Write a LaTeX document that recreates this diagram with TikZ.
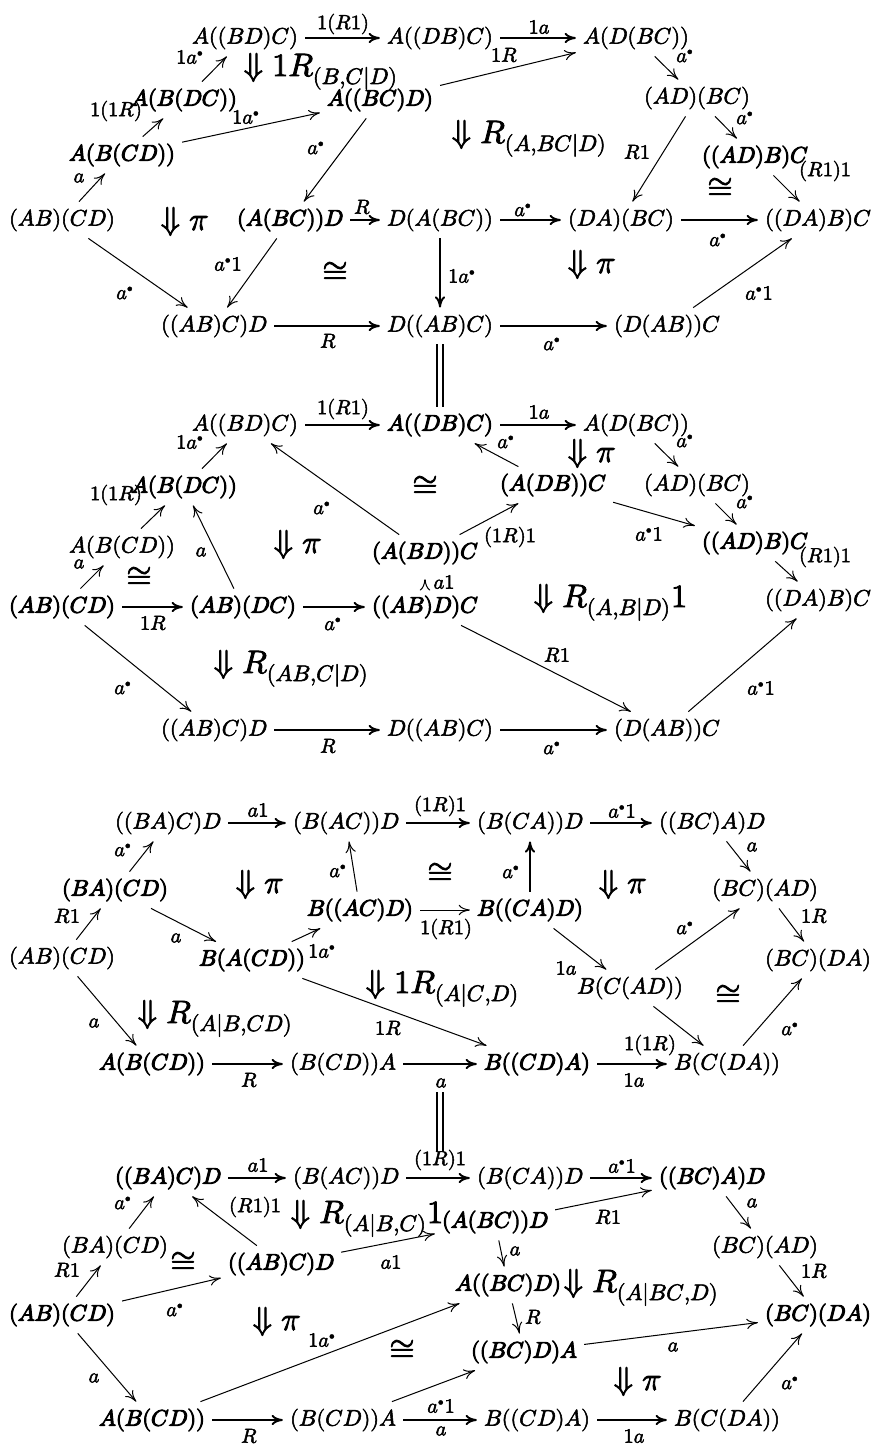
\documentclass[tikz,border=0pt]{standalone}
\usepackage{amsmath}
\usepackage{unicode-math}
\setmathfont{Latin Modern Math}[FakeBold=2.5]
\setmathfont{Latin Modern Math}[version=bold,FakeBold=4.5]
\usetikzlibrary{arrows.meta}
\newcommand{\adot}{a^{\scriptscriptstyle\bullet}}
\begin{document}
\begin{tikzpicture}[x=0.445pt,y=-0.445pt,
  ob/.style={inner sep=3pt},
  bo/.style={inner sep=3pt,font=\boldmath},
  ar/.style={-{Computer Modern Rightarrow[length=5pt,width=4.6pt]},line width=0.45pt},
  arh/.style={ar,line width=0.85pt},
  lb/.style={font=\small,inner sep=0pt},
  tc/.style={font=\Large,inner sep=0pt,anchor=base west},
  cg/.style={font=\Large,inner sep=0pt},
  dbl/.style={double,double distance=2pt,line width=0.7pt}]
\fill[white] (0,0) rectangle (875,1444);
% ================= Panel 1 =================
\node[ob] (a1) at (245,38) {$A((BD)C)$};
\node[ob] (a2) at (440,38) {$A((DB)C)$};
\node[ob] (a3) at (636,38) {$A(D(BC))$};
\node[bo] (a4) at (184,100) {$A(B(DC))$};
\node[bo] (a5) at (122,155) {$A(B(CD))$};
\node[bo] (a6) at (380,100) {$A((BC)D)$};
\node[ob] (a7) at (62,220) {$(AB)(CD)$};
\node[bo] (a8) at (290,220) {$(A(BC))D$};
\node[ob] (a9) at (440,220) {$D(A(BC))$};
\node[ob] (a10) at (621,220) {$(DA)(BC)$};
\node[ob] (a11) at (818,220) {$((DA)B)C$};
\node[ob] (a12) at (697,98) {$(AD)(BC)$};
\node[bo] (a13) at (755,157) {$((AD)B)C$};
\node[ob] (a14) at (214,326) {$((AB)C)D$};
\node[ob] (a15) at (440,326) {$D((AB)C)$};
\node[ob] (a16) at (667,326) {$(D(AB))C$};
\draw[arh] (a1) -- (a2);
\draw[arh] (a2) -- (a3);
\draw[ar] (a6) -- (a3);
\draw[ar] (a4) -- (a1);
\draw[ar] (a5) -- (a4);
\draw[ar] (a5) -- (a6);
\draw[ar] (a7) -- (a5);
\draw[ar] (a6) -- (a8);
\draw[arh] (a8) -- (a9);
\draw[arh] (a9) -- (a10);
\draw[arh] (a10) -- (a11);
\draw[ar] (a3) -- (a12);
\draw[ar] (a12) -- (a13);
\draw[ar] (a13) -- (a11);
\draw[ar] (a12) -- (a10);
\draw[ar] (a7) -- (a14);
\draw[ar] (a8) -- (a14);
\draw[arh] (a14) -- (a15);
\draw[arh] (a9) -- (a15);
\draw[arh] (a15) -- (a16);
\draw[ar] (a16) -- (a11);
\node[lb] at (343,24) {$1(R1)$};
\node[lb] at (539,27) {$1a$};
\node[lb] at (504,55) {$1R$};
\node[lb] at (190,57) {$1\adot$};
\node[lb] at (116,111) {$1(1R)$};
\node[lb] at (246,117) {$1\adot$};
\node[lb] at (79,178) {$a$};
\node[lb] at (316,148) {$\adot$};
\node[lb] at (362,207) {$R$};
\node[lb] at (523,210) {$\adot$};
\node[lb] at (718,240) {$\adot$};
\node[lb] at (685,56) {$\adot$};
\node[lb] at (745,118) {$\adot$};
\node[lb] at (825,171) {$(R1)1$};
\node[lb] at (637,152) {$R1$};
\node[lb] at (125,293) {$\adot$};
\node[lb] at (228,264) {$\adot 1$};
\node[lb] at (328,341) {$R$};
\node[lb] at (462,276) {$1\adot$};
\node[lb] at (552,344) {$\adot$};
\node[lb] at (759,293) {$\adot 1$};
\node[tc] at (243,76) {$\Downarrow 1R_{(B,C|D)}$};
\node[tc] at (160,230) {$\Downarrow \pi$};
\node[tc] at (451,143) {$\Downarrow R_{(A,BC|D)}$};
\node[cg] at (335,271) {$\cong$};
\node[tc] at (567,273) {$\Downarrow \pi$};
\node[cg] at (720,187) {$\cong$};
% ================= Panel 2 =================
\node[ob] (b1) at (245,425) {$A((BD)C)$};
\node[bo] (b2) at (440,425) {$A((DB)C)$};
\node[ob] (b3) at (636,425) {$A(D(BC))$};
\node[ob] (b4) at (697,485) {$(AD)(BC)$};
\node[bo] (b5) at (553,485) {$(A(DB))C$};
\node[bo] (b6) at (755,543) {$((AD)B)C$};
\node[ob] (b7) at (818,600) {$((DA)B)C$};
\node[bo] (b8) at (184,487) {$A(B(DC))$};
\node[ob] (b9) at (122,547) {$A(B(CD))$};
\node[bo] (b10) at (62,607) {$(AB)(CD)$};
\node[bo] (b11) at (243,607) {$(AB)(DC)$};
\node[bo] (b12) at (425,607) {$((AB)D)C$};
\node[bo] (b13) at (425,553) {$(A(BD))C$};
\node[ob] (b14) at (214,730) {$((AB)C)D$};
\node[ob] (b15) at (440,730) {$D((AB)C)$};
\node[ob] (b16) at (667,730) {$(D(AB))C$};
\draw[dbl] (a15) -- (b2);
\draw[arh] (b1) -- (b2);
\draw[arh] (b2) -- (b3);
\draw[ar] (b3) -- (b4);
\draw[ar] (b5) -- (b2);
\draw[ar] (b4) -- (b6);
\draw[ar] (b5) -- (b6);
\draw[ar] (b6) -- (b7);
\draw[ar] (b8) -- (b1);
\draw[ar] (b9) -- (b8);
\draw[ar] (b10) -- (b9);
\draw[arh] (b10) -- (b11);
\draw[ar] (b11) -- (b8);
\draw[arh] (b11) -- (b12);
\draw[ar,shorten <=3.5pt,shorten >=3.5pt] (b12) -- (b13);
\draw[ar] (b13) -- (b5);
\draw[ar] (b13) -- (b1);
\draw[ar] (b10) -- (b14);
\draw[arh] (b14) -- (b15);
\draw[arh] (b15) -- (b16);
\draw[ar] (b12) -- (b16);
\draw[ar] (b16) -- (b7);
\node[lb] at (343,409) {$1(R1)$};
\node[lb] at (539,412) {$1a$};
\node[lb] at (685,441) {$\adot$};
\node[lb] at (506,442) {$\adot$};
\node[lb] at (745,502) {$\adot$};
\node[lb] at (649,534) {$\adot 1$};
\node[lb] at (825,557) {$(R1)1$};
\node[lb] at (190,442) {$1\adot$};
\node[lb] at (116,495) {$1(1R)$};
\node[lb] at (79,564) {$a$};
\node[lb] at (153,623) {$1R$};
\node[lb] at (201,552) {$a$};
\node[lb] at (333,624) {$\adot$};
\node[lb] at (444,582) {$a1$};
\node[lb] at (510,537) {$(1R)1$};
\node[lb] at (322,508) {$\adot$};
\node[lb] at (123,688) {$\adot$};
\node[lb] at (328,746) {$R$};
\node[lb] at (552,748) {$\adot$};
\node[lb] at (557,655) {$R1$};
\node[lb] at (761,688) {$\adot 1$};
\node[tc] at (567,462) {$\Downarrow \pi$};
\node[cg] at (425,485) {$\cong$};
\node[cg] at (139,576) {$\cong$};
\node[tc] at (273,553) {$\Downarrow \pi$};
\node[tc] at (533,607) {$\Downarrow R_{(A,B|D)}1$};
\node[tc] at (213,673) {$\Downarrow R_{(AB,C|D)}$};
% ================= Panel 3 =================
\node[ob] (c1) at (168,823) {$((BA)C)D$};
\node[ob] (c2) at (346,823) {$(B(AC))D$};
\node[ob] (c3) at (530,823) {$(B(CA))D$};
\node[ob] (c4) at (712,823) {$((BC)A)D$};
\node[ob] (c5) at (765,890) {$(BC)(AD)$};
\node[ob] (c6) at (818,960) {$(BC)(DA)$};
\node[bo] (c7) at (360,910) {$B((AC)D)$};
\node[bo] (c8) at (530,910) {$B((CA)D)$};
\node[bo] (c9) at (115,890) {$(BA)(CD)$};
\node[ob] (c10) at (62,958) {$(AB)(CD)$};
\node[bo] (c11) at (252,960) {$B(A(CD))$};
\node[ob] (c12) at (630,988) {$B(C(AD))$};
\node[ob] (c13) at (727,1064) {$B(C(DA))$};
\node[bo] (c14) at (537,1064) {$B((CD)A)$};
\node[bo] (c15) at (152,1064) {$A(B(CD))$};
\node[ob] (c16) at (343,1064) {$(B(CD))A$};
\draw[arh] (c1) -- (c2);
\draw[arh] (c2) -- (c3);
\draw[arh] (c3) -- (c4);
\draw[ar] (c4) -- (c5);
\draw[ar] (c5) -- (c6);
\draw[ar] (c7) -- (c2);
\draw[ar] (c7) -- (c8);
\draw[arh] (c8) -- (c3);
\draw[ar] (c9) -- (c1);
\draw[ar] (c10) -- (c9);
\draw[ar] (c9) -- (c11);
\draw[ar] (c11) -- (c7);
\draw[ar] (c11) -- (c14);
\draw[ar] (c8) -- (c12);
\draw[ar] (c12) -- (c5);
\draw[ar] (c12) -- (c13);
\draw[ar] (c13) -- (c6);
\draw[arh] (c14) -- (c13);
\draw[ar] (c10) -- (c15);
\draw[arh] (c15) -- (c16);
\draw[arh] (c16) -- (c14);
\node[lb] at (258,810) {$a1$};
\node[lb] at (440,806) {$(1R)1$};
\node[lb] at (622,811) {$\adot 1$};
\node[lb] at (752,847) {$a$};
\node[lb] at (814,916) {$1R$};
\node[lb] at (338,871) {$\adot$};
\node[lb] at (446,929) {$1(R1)$};
\node[lb] at (511,872) {$\adot$};
\node[lb] at (123,850) {$\adot$};
\node[lb] at (67,916) {$R1$};
\node[lb] at (176,938) {$a$};
\node[lb] at (322,951) {$1\adot$};
\node[lb] at (388,1028) {$1R$};
\node[lb] at (566,968) {$1a$};
\node[lb] at (685,928) {$\adot$};
\node[lb] at (650,1045) {$1(1R)$};
\node[lb] at (790,1029) {$\adot$};
\node[lb] at (634,1080) {$1a$};
\node[lb] at (94,1023) {$a$};
\node[lb] at (249,1080) {$R$};
\node[lb] at (441,1083) {$a$};
\node[tc] at (235,893) {$\Downarrow \pi$};
\node[cg] at (440,872) {$\cong$};
\node[tc] at (598,893) {$\Downarrow \pi$};
\node[tc] at (365,993) {$\Downarrow 1R_{(A|C,D)}$};
\node[cg] at (728,994) {$\cong$};
\node[tc] at (137,1023) {$\Downarrow R_{(A|B,CD)}$};
\coordinate (e1) at (440,1092);
\coordinate (e2) at (440,1152);
\draw[dbl] (e1) -- (e2);
% ================= Panel 4 =================
\node[bo] (d1) at (168,1178) {$((BA)C)D$};
\node[ob] (d2) at (346,1178) {$(B(AC))D$};
\node[ob] (d3) at (530,1178) {$(B(CA))D$};
\node[bo] (d4) at (712,1178) {$((BC)A)D$};
\node[bo] (d5) at (495,1222) {$(A(BC))D$};
\node[bo] (d6) at (281,1264) {$((AB)C)D$};
\node[ob] (d7) at (115,1247) {$(BA)(CD)$};
\node[bo] (d8) at (62,1315) {$(AB)(CD)$};
\node[bo] (d9) at (508,1285) {$A((BC)D)$};
\node[bo] (d10) at (524,1352) {$((BC)D)A$};
\node[ob] (d11) at (765,1247) {$(BC)(AD)$};
\node[bo] (d12) at (818,1315) {$(BC)(DA)$};
\node[bo] (d13) at (152,1420) {$A(B(CD))$};
\node[ob] (d14) at (343,1420) {$(B(CD))A$};
\node[ob] (d15) at (537,1420) {$B((CD)A)$};
\node[ob] (d16) at (727,1420) {$B(C(DA))$};
\draw[arh] (d1) -- (d2);
\draw[arh] (d2) -- (d3);
\draw[arh] (d3) -- (d4);
\draw[ar] (d5) -- (d4);
\draw[ar] (d6) -- (d1);
\draw[ar] (d6) -- (d5);
\draw[ar] (d7) -- (d1);
\draw[ar] (d8) -- (d7);
\draw[ar] (d8) -- (d6);
\draw[ar] (d5) -- (d9);
\draw[ar] (d9) -- (d10);
\draw[ar] (d10) -- (d12);
\draw[ar] (d4) -- (d11);
\draw[ar] (d11) -- (d12);
\draw[ar] (d8) -- (d13);
\draw[ar] (d13) -- (d9);
\draw[arh] (d13) -- (d14);
\draw[ar] (d14) -- (d10);
\draw[arh] (d14) -- (d15);
\draw[arh] (d15) -- (d16);
\draw[ar] (d16) -- (d12);
\node[lb] at (258,1165) {$a1$};
\node[lb] at (440,1160) {$(1R)1$};
\node[lb] at (622,1166) {$\adot 1$};
\node[lb] at (608,1217) {$R1$};
\node[lb] at (255,1207) {$(R1)1$};
\node[lb] at (391,1262) {$a1$};
\node[lb] at (123,1203) {$\adot$};
\node[lb] at (67,1270) {$R1$};
\node[lb] at (175,1310) {$\adot$};
\node[lb] at (515,1251) {$a$};
\node[lb] at (533,1317) {$R$};
\node[lb] at (673,1347) {$a$};
\node[lb] at (752,1203) {$a$};
\node[lb] at (814,1271) {$1R$};
\node[lb] at (94,1378) {$a$};
\node[lb] at (322,1340) {$1\adot$};
\node[lb] at (249,1436) {$R$};
\node[lb] at (441,1406) {$\adot 1$};
\node[lb] at (441,1431) {$a$};
\node[lb] at (634,1436) {$1a$};
\node[lb] at (790,1383) {$\adot$};
\node[tc] at (290,1223) {$\Downarrow R_{(A|B,C)}1$};
\node[cg] at (183,1261) {$\cong$};
\node[tc] at (252,1330) {$\Downarrow \pi$};
\node[tc] at (563,1292) {$\Downarrow R_{(A|BC,D)}$};
\node[cg] at (402,1349) {$\cong$};
\node[tc] at (613,1390) {$\Downarrow \pi$};
\end{tikzpicture}
\end{document}
